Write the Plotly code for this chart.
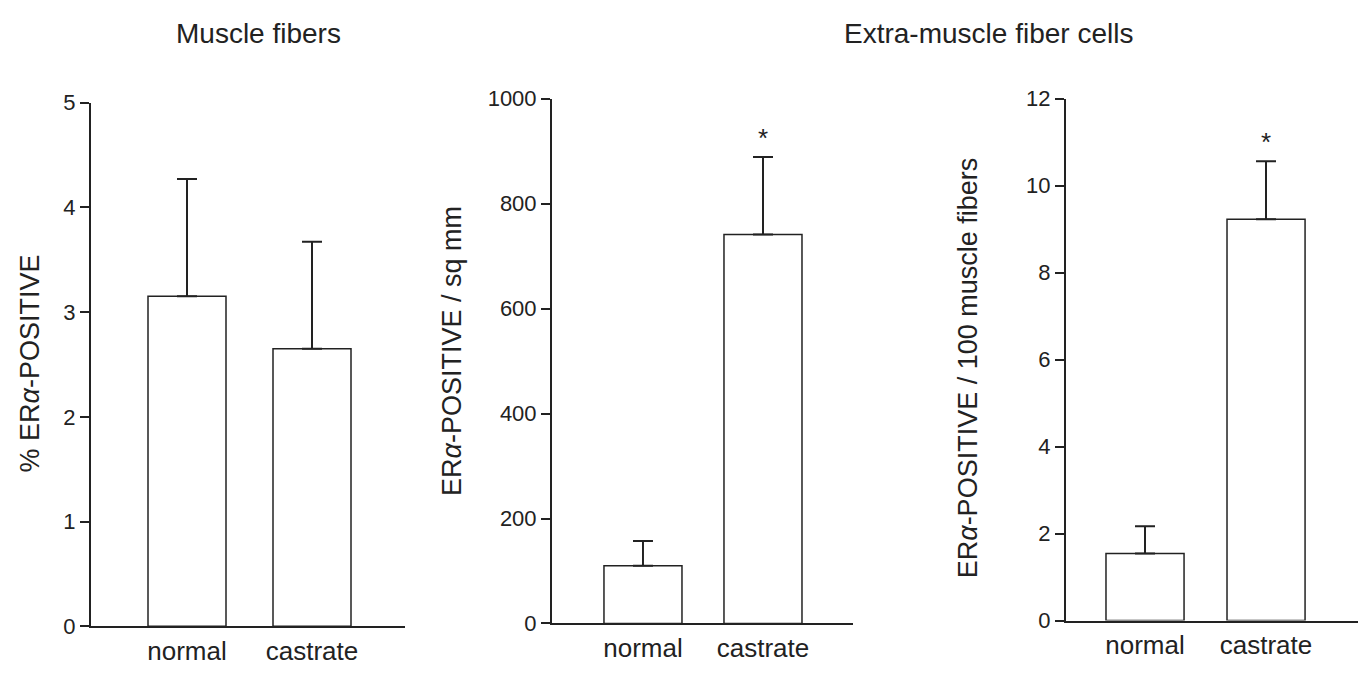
import plotly.graph_objects as go

categories = ["normal", "castrate"]
muscle_pct = [3.15, 2.65]
muscle_pct_err = [1.12, 1.02]
extra_sqmm = [110, 741]
extra_sqmm_err = [47, 148]
extra_per100 = [1.54, 9.23]
extra_per100_err = [0.63, 1.33]
significant = [False, True]

panel_titles = ["Muscle fibers", "Extra-muscle fiber cells"]
y_titles = ["% ER<i>α</i>-POSITIVE", "ER<i>α</i>-POSITIVE / sq mm", "ER<i>α</i>-POSITIVE / 100 muscle fibers"]

W, H = 1363, 675
INK = "#222222"
FONT = "Liberation Sans, Arial, Helvetica, sans-serif"

def px_x(p):
    return p / W

def px_y(p):
    return 1 - p / H

panels = [
    dict(vals=muscle_pct, errs=muscle_pct_err, yr=[0, 5], dt=1,
         xdom=[91, 405], ydom=[638, 94], xr=[-0.768, 1.744], width=0.624),
    dict(vals=extra_sqmm, errs=extra_sqmm_err, yr=[0, 1000], dt=200,
         xdom=[552, 853], ydom=[635, 90], xr=[-0.758, 1.75], width=0.65),
    dict(vals=extra_per100, errs=extra_per100_err, yr=[0, 12], dt=2,
         xdom=[1066, 1358], ydom=[632, 90], xr=[-0.653, 1.76], width=0.645),
]

fig = go.Figure()
layout = dict(
    width=W, height=H, margin=dict(l=0, r=0, t=0, b=0),
    paper_bgcolor="white", plot_bgcolor="white", showlegend=False,
    font=dict(family=FONT, color=INK, size=20),
)
annotations = []
xs = [0, 1]
for i, p in enumerate(panels):
    n = "" if i == 0 else str(i + 1)
    fig.add_trace(go.Bar(
        x=xs, y=p["vals"], width=p["width"],
        marker=dict(color="white", line=dict(color=INK, width=1.5)),
        error_y=dict(type="data", symmetric=False, array=p["errs"],
                     arrayminus=[0, 0], thickness=2, width=10, color=INK),
        xaxis="x" + n, yaxis="y" + n, hoverinfo="skip",
    ))
    layout["xaxis" + n] = dict(
        domain=[px_x(p["xdom"][0]), px_x(p["xdom"][1])], range=p["xr"],
        anchor="y" + n, showgrid=False, zeroline=False, showline=True,
        linecolor=INK, linewidth=2, ticks="", tickvals=xs, ticktext=categories,
        tickfont=dict(size=26, family=FONT, color=INK), fixedrange=True,
    )
    layout["yaxis" + n] = dict(
        domain=[px_y(p["ydom"][0]), px_y(p["ydom"][1])], range=p["yr"],
        dtick=p["dt"], anchor="x" + n, showgrid=False, zeroline=False,
        showline=True, linecolor=INK, linewidth=2, ticks="outside", ticklen=9,
        tickwidth=2, tickcolor=INK, tickfont=dict(size=22, family=FONT, color=INK),
        fixedrange=True,
    )
    for j, sig in enumerate(significant):
        if sig and i > 0:
            annotations.append(dict(
                x=xs[j], y=p["vals"][j] + p["errs"][j], xref="x" + n, yref="y" + n,
                text="*", showarrow=False, yanchor="bottom", yshift=2,
                font=dict(size=26, family=FONT, color=INK),
            ))

# y-axis titles
ytitle_pos = [(30, 365), (452, 352), (968, 370)]
for t, (x, y) in zip(y_titles, ytitle_pos):
    annotations.append(dict(
        x=px_x(x), y=px_y(y), xref="paper", yref="paper", text=t, textangle=-90,
        showarrow=False, xanchor="center", yanchor="middle",
        font=dict(size=27, family=FONT, color=INK),
    ))

# panel titles
for t, (x, y) in zip(panel_titles, [(258, 22), (988, 22)]):
    annotations.append(dict(
        x=px_x(x), y=px_y(y), xref="paper", yref="paper", text=t,
        showarrow=False, xanchor="center", yanchor="middle",
        font=dict(size=28, family=FONT, color=INK),
    ))

layout["annotations"] = annotations
fig.update_layout(**layout)
fig.write_html("out.html", config={"displayModeBar": False})
